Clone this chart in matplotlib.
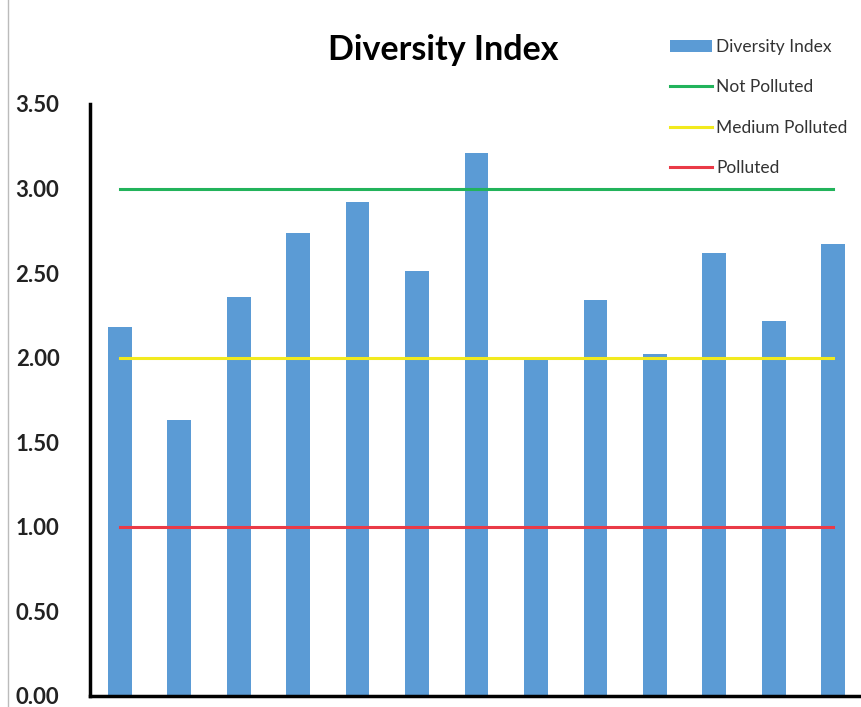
import matplotlib.pyplot as plt
import numpy as np
from matplotlib.lines import Line2D

# diversity index per sampling station
stations = ["1", "2", "3", "4", "5", "6", "7", "8", "9", "10", "11", "12", "13"]
diversity = [2.18, 1.63, 2.36, 2.74, 2.92, 2.51, 3.21, 2.00, 2.34, 2.02, 2.62, 2.22, 2.67]

# pollution thresholds
not_polluted = 3.0
medium_polluted = 2.0
polluted = 1.0

yticks = [0.0, 0.5, 1.0, 1.5, 2.0, 2.5, 3.0, 3.5]

plt.rcParams["font.family"] = ["Lato", "DejaVu Sans"]

fig = plt.figure(figsize=(8.62, 7.07), dpi=100)
ax = fig.add_axes([90 / 862, 11 / 707, 773 / 862, 592 / 707])

x = np.arange(len(stations))
bars = ax.bar(x, diversity, width=0.4, color="#5B9BD5", label="Diversity Index", zorder=2)
l1, = ax.plot(x, [not_polluted] * len(x), color="#22B35B", lw=2.2, label="Not Polluted", zorder=3)
l2, = ax.plot(x, [medium_polluted] * len(x), color="#F2EA1E", lw=2.2, label="Medium Polluted", zorder=3)
l3, = ax.plot(x, [polluted] * len(x), color="#EA3A47", lw=2.2, label="Polluted", zorder=3)

ax.set_xlim(-0.5, len(stations) - 0.5)
ax.set_ylim(0, 3.5)
ax.set_xticks([])
ax.set_yticks(yticks)
ax.set_yticklabels([f"{t:.2f}" for t in yticks], fontsize=16, fontweight="bold", color="#222222")
ax.tick_params(axis="y", length=0, pad=22)

for side in ["top", "right"]:
    ax.spines[side].set_visible(False)
for side in ["left", "bottom"]:
    ax.spines[side].set_linewidth(2.5)
    ax.spines[side].set_color("black")

fig.text(443 / 862, 1 - 50 / 707, "Diversity Index", ha="center", va="center",
         fontsize=24.5, fontweight="bold")

leg = fig.legend([bars, l1, l2, l3],
                 ["Diversity Index", "Not Polluted", "Medium Polluted", "Polluted"],
                 loc="upper left", bbox_to_anchor=(670 / 862, 1 - 39 / 707),
                 frameon=False, fontsize=12.5, labelspacing=1.4,
                 handlelength=2.4, handleheight=0.7, handletextpad=0.25, borderaxespad=0,
                 borderpad=0)
for txt in leg.get_texts():
    txt.set_color("#333333")

# thin frame line on the left edge
fig.add_artist(Line2D([8 / 862, 8 / 862], [0, 1], color="#BBBBBB", lw=1))

fig.savefig("out.png", dpi=100)
